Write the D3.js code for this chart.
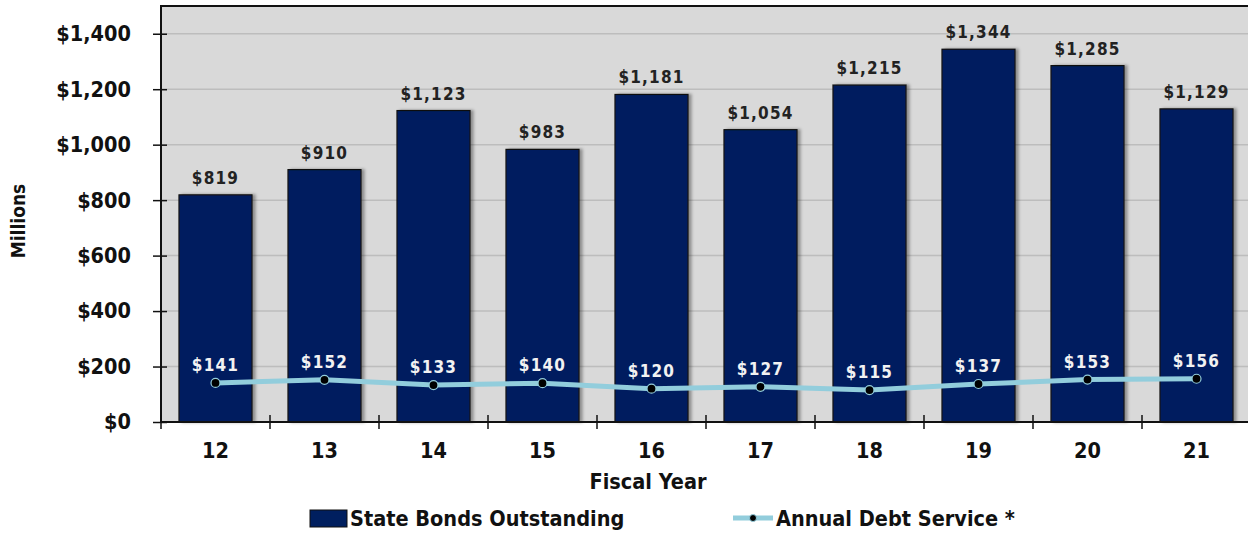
<!DOCTYPE html>
<html>
<head>
<meta charset="utf-8">
<script src="https://cdn.jsdelivr.net/npm/d3@7"></script>
<style>
  body { margin: 0; background: #fff; }
  text { font-family: "DejaVu Sans Condensed", "DejaVu Sans", sans-serif; font-weight: bold; }
</style>
</head>
<body>
<script>
let width = 1248, height = 533
let years = ['12', '13', '14', '15', '16', '17', '18', '19', '20', '21']
let bonds = [819, 910, 1123, 983, 1181, 1054, 1215, 1344, 1285, 1129]
let debtService = [141, 152, 133, 140, 120, 127, 115, 137, 153, 156]
let yTicks = [0, 200, 400, 600, 800, 1000, 1200, 1400]

let plotL = 161, plotR = 1251, plotT = 6, plotB = 422

let svg = d3.select('body').append('svg')
    .attr('width', width)
    .attr('height', height)

let defs = svg.append('defs')
let f = defs.append('filter').attr('id', 'shadow').attr('x', '-10%').attr('width', '130%')
f.append('feDropShadow').attr('dx', 3).attr('dy', 0).attr('stdDeviation', 1.5)
    .attr('flood-color', '#000').attr('flood-opacity', 0.35)

let x = d3.scaleBand().domain(years).range([plotL, plotR]).paddingInner(0.33).paddingOuter(0.165)
let xc = d3.scaleBand().domain(years).range([plotL, plotR])
let y = d3.scaleLinear().domain([0, 1500]).range([plotB, plotT])

// plot background
svg.append('rect')
    .attr('x', plotL).attr('y', plotT)
    .attr('width', plotR - plotL).attr('height', plotB - plotT)
    .attr('fill', '#d9d9d9')

// gridlines
svg.append('g').selectAll('line')
    .data(yTicks.slice(1))
    .join('line')
    .attr('x1', plotL).attr('x2', plotR)
    .attr('y1', d => y(d)).attr('y2', d => y(d))
    .attr('stroke', '#bdbdbd').attr('stroke-width', 1.5)

// bars
svg.append('g').selectAll('rect')
    .data(bonds)
    .join('rect')
    .attr('x', (d, i) => x(years[i]))
    .attr('y', d => y(d))
    .attr('width', x.bandwidth())
    .attr('height', d => plotB - y(d))
    .attr('fill', '#001f5f')
    .attr('stroke', '#111')
    .attr('stroke-width', 1.2)
    .attr('filter', 'url(#shadow)')

// bar labels
svg.append('g').selectAll('text')
    .data(bonds)
    .join('text')
    .attr('x', (d, i) => xc(years[i]) + xc.bandwidth() / 2)
    .attr('y', d => y(d) - 11)
    .attr('text-anchor', 'middle')
    .attr('font-size', 17)
    .attr('fill', '#222')
    .attr('letter-spacing', 1.2)
    .text(d => '$' + d3.format(',')(d))

// plot border (top, left, bottom)
svg.append('path')
    .attr('d', `M${plotR},${plotT}H${plotL}V${plotB}H${plotR}`)
    .attr('fill', 'none').attr('stroke', '#111').attr('stroke-width', 2)

// y axis
let yAxis = svg.append('g')
    .attr('transform', `translate(${plotL},0)`)
    .call(d3.axisLeft(y).tickValues(yTicks).tickSize(8).tickPadding(22)
        .tickFormat(d => '$' + d3.format(',')(d)))
yAxis.select('.domain').remove()
yAxis.selectAll('line').attr('x1', 6).attr('stroke', '#111').attr('stroke-width', 1.5)
yAxis.selectAll('text').attr('font-size', 21.5).attr('fill', '#111')
    .style('font-family', '"DejaVu Sans Condensed", sans-serif').style('font-weight', 'bold')

// x axis: ticks at category boundaries
let bounds = years.map(d => xc(d)).concat([plotR])
svg.append('g').selectAll('line')
    .data(bounds)
    .join('line')
    .attr('x1', d => d).attr('x2', d => d)
    .attr('y1', plotB - 7).attr('y2', plotB + 7)
    .attr('stroke', '#111').attr('stroke-width', 1.5)

svg.append('g').selectAll('text')
    .data(years)
    .join('text')
    .attr('x', d => xc(d) + xc.bandwidth() / 2)
    .attr('y', 458)
    .attr('text-anchor', 'middle')
    .attr('font-size', 21.5)
    .attr('fill', '#111')
    .text(d => d)

// line series
let line = d3.line()
    .x((d, i) => xc(years[i]) + xc.bandwidth() / 2)
    .y(d => y(d))

svg.append('path')
    .datum(debtService)
    .attr('d', line)
    .attr('fill', 'none')
    .attr('stroke', '#92cddc')
    .attr('stroke-width', 5)

svg.append('g').selectAll('circle')
    .data(debtService)
    .join('circle')
    .attr('cx', (d, i) => xc(years[i]) + xc.bandwidth() / 2)
    .attr('cy', d => y(d))
    .attr('r', 4.5)
    .attr('fill', '#000')
    .attr('stroke', '#92cddc')
    .attr('stroke-width', 1.2)

svg.append('g').selectAll('text')
    .data(debtService)
    .join('text')
    .attr('x', (d, i) => xc(years[i]) + xc.bandwidth() / 2)
    .attr('y', d => y(d) - 12)
    .attr('text-anchor', 'middle')
    .attr('font-size', 17)
    .attr('fill', '#f2f2f2')
    .attr('letter-spacing', 1.2)
    .text(d => '$' + d)

// axis titles
svg.append('text')
    .attr('transform', 'translate(25,221) rotate(-90)')
    .attr('text-anchor', 'middle')
    .attr('font-size', 19)
    .attr('fill', '#111')
    .text('Millions')

svg.append('text')
    .attr('x', 648).attr('y', 489)
    .attr('text-anchor', 'middle')
    .attr('font-size', 21.5)
    .attr('fill', '#111')
    .text('Fiscal Year')

// legend
let lg = svg.append('g')
lg.append('rect')
    .attr('x', 310).attr('y', 510).attr('width', 37).attr('height', 17)
    .attr('fill', '#001f5f').attr('stroke', '#111')
lg.append('text')
    .attr('x', 350).attr('y', 526)
    .attr('font-size', 21.5).attr('fill', '#111')
    .text('State Bonds Outstanding')
lg.append('line')
    .attr('x1', 733).attr('x2', 773).attr('y1', 518).attr('y2', 518)
    .attr('stroke', '#92cddc').attr('stroke-width', 5)
lg.append('circle')
    .attr('cx', 753).attr('cy', 518).attr('r', 3.5)
    .attr('fill', '#000').attr('stroke', '#92cddc')
lg.append('text')
    .attr('x', 776).attr('y', 526)
    .attr('font-size', 21.5).attr('fill', '#111')
    .text('Annual Debt Service *')
</script>
</body>
</html>
